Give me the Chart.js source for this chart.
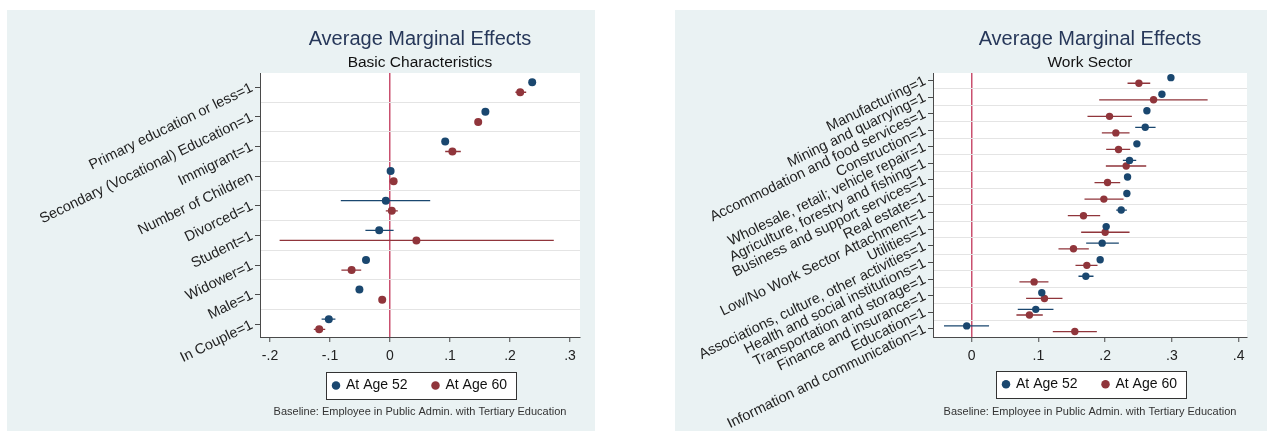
<!DOCTYPE html>
<html>
<head>
<meta charset="utf-8">
<script src="https://cdn.jsdelivr.net/npm/chart.js@4.4.1/dist/chart.umd.min.js"></script>
<style>
  html, body { margin: 0; padding: 0; background: #ffffff; }
  body { width: 1267px; height: 431px; position: relative; overflow: hidden; }
  canvas { position: absolute; background: #eaf2f3; }
  #basic { left: 7px; top: 10px; }
  #sector { left: 675px; top: 10px; }
</style>
</head>
<body>
<canvas id="basic" width="588" height="421"></canvas>
<canvas id="sector" width="592" height="421"></canvas>
<script>
// left panel: basic characteristics
const basicCats = ["Primary education or less=1", "Secondary (Vocational) Education=1", "Immigrant=1",
  "Number of Children", "Divorced=1", "Student=1", "Widower=1", "Male=1", "In Couple=1"];
const basic52 = [0.237, 0.159, 0.092, 0.001, -0.007, -0.018, -0.040, -0.051, -0.102];
const basic52Lo = [0.233, 0.155, 0.088, -0.003, -0.082, -0.041, -0.044, -0.055, -0.114];
const basic52Hi = [0.241, 0.163, 0.096, 0.005, 0.067, 0.006, -0.036, -0.047, -0.091];
const basic60 = [0.217, 0.147, 0.104, 0.006, 0.003, 0.044, -0.064, -0.013, -0.118];
const basic60Lo = [0.209, 0.143, 0.092, 0.002, -0.007, -0.184, -0.081, -0.017, -0.127];
const basic60Hi = [0.227, 0.151, 0.118, 0.010, 0.013, 0.273, -0.048, -0.009, -0.108];
const basicTicks = [-0.2, -0.1, 0, 0.1, 0.2, 0.3];
const basicTickLabels = ["-.2", "-.1", "0", ".1", ".2", ".3"];

// right panel: work sector
const sectorCats = ["Manufacturing=1", "Mining and quarrying=1", "Accommodation and food services=1",
  "Construction=1", "Wholesale, retail; vehicle repair=1", "Agriculture, forestry and fishing=1",
  "Business and support services=1", "Real estate=1", "Low/No Work Sector Attachment=1", "Utilities=1",
  "Associations, culture, other activities=1", "Health and social institutions=1",
  "Transportation and storage=1", "Finance and insurance=1", "Education=1",
  "Information and communication=1"];
const sector52 = [0.2985, 0.285, 0.2625, 0.26, 0.2475, 0.2365, 0.2335, 0.2325, 0.224, 0.2015, 0.1955, 0.1925, 0.171, 0.105, 0.096, -0.0075];
const sector52Lo = [0.295, 0.281, 0.259, 0.245, 0.244, 0.2265, 0.23, 0.229, 0.2165, 0.198, 0.1715, 0.189, 0.16, 0.101, 0.069, -0.0415];
const sector52Hi = [0.302, 0.289, 0.266, 0.2755, 0.251, 0.2465, 0.237, 0.236, 0.2325, 0.205, 0.2205, 0.196, 0.1825, 0.109, 0.1225, 0.026];
const sector60 = [0.2505, 0.2725, 0.2065, 0.216, 0.22, 0.2315, 0.2035, 0.198, 0.1675, 0.2, 0.1525, 0.1725, 0.0935, 0.109, 0.0865, 0.1545];
const sector60Lo = [0.2335, 0.191, 0.1735, 0.195, 0.2015, 0.201, 0.184, 0.169, 0.144, 0.164, 0.13, 0.1555, 0.0715, 0.0815, 0.067, 0.1215];
const sector60Hi = [0.2675, 0.3535, 0.24, 0.2365, 0.2375, 0.2615, 0.2225, 0.2275, 0.1925, 0.2365, 0.1755, 0.1885, 0.115, 0.136, 0.1065, 0.1875];
const sectorTicks = [0, 0.1, 0.2, 0.3, 0.4];
const sectorTickLabels = ["0", ".1", ".2", ".3", ".4"];

const seriesNames = ["At Age 52", "At Age 60"];
const note = "Baseline: Employee in Public Admin. with Tertiary Education";

const NAVY = "#1a476f";
const MAROON = "#90353b";
const AXIS = "#4a4a4a";

Chart.defaults.font.family = "'Liberation Sans', Arial, sans-serif";
Chart.defaults.color = "#333";

const panelExtras = {
  id: "panelExtras",
  afterUpdate(chart, args, opts) {
    // pull the legend up closer to the axis labels
    const lg = chart.legend;
    const dy = opts.legendShift;
    lg.top += dy;
    lg.bottom += dy;
    (lg.legendHitBoxes || []).forEach(h => { h.top += dy; });
  },
  beforeDraw(chart) {
    const { ctx, chartArea: a } = chart;
    ctx.save();
    ctx.fillStyle = "#ffffff";
    ctx.fillRect(a.left, a.top, a.right - a.left, a.bottom - a.top);
    // legend frame
    const hb = chart.legend.legendHitBoxes;
    if (hb && hb.length) {
      const last = hb[hb.length - 1];
      const x0 = Math.round(hb[0].left - 7) + 0.5;
      const x1 = Math.round(last.left + last.width + 9) + 0.5;
      const yc = hb[0].top + hb[0].height / 2;
      const y0 = Math.round(yc - 13.5) + 0.5;
      ctx.fillRect(x0, y0, x1 - x0, 27);
      ctx.strokeStyle = "#333";
      ctx.lineWidth = 1;
      ctx.strokeRect(x0, y0, x1 - x0, 27);
    }
    ctx.restore();
  },
  afterDraw(chart, args, opts) {
    const { ctx, chartArea: a } = chart;
    ctx.save();
    ctx.font = "11px 'Liberation Sans', Arial, sans-serif";
    ctx.fillStyle = "#333";
    ctx.textAlign = "center";
    ctx.textBaseline = "middle";
    ctx.fillText(opts.note, (a.left + a.right) / 2, opts.noteY);
    ctx.restore();
  }
};

function ciPoints(lo, hi, shift) {
  return lo.flatMap((l, i) => [{ x: l, y: i + shift }, { x: hi[i], y: i + shift }, { x: NaN, y: NaN }]);
}

function makePanel(id, p) {
  const n = p.cats.length;
  const off = 0.17;
  return new Chart(document.getElementById(id), {
    type: "scatter",
    data: {
      datasets: [
        { label: seriesNames[0], data: p.v52.map((v, i) => ({ x: v, y: i - off })),
          backgroundColor: NAVY, borderColor: NAVY, pointRadius: p.r, pointBorderWidth: 0, pointStyle: "circle" },
        { label: seriesNames[1], data: p.v60.map((v, i) => ({ x: v, y: i + off })),
          backgroundColor: MAROON, borderColor: MAROON, pointRadius: p.r, pointBorderWidth: 0, pointStyle: "circle" },
        { label: "ci52", data: ciPoints(p.lo52, p.hi52, -off), showLine: true, spanGaps: false,
          borderColor: NAVY, borderWidth: 1.3, pointRadius: 0 },
        { label: "ci60", data: ciPoints(p.lo60, p.hi60, off), showLine: true, spanGaps: false,
          borderColor: MAROON, borderWidth: 1.3, pointRadius: 0 }
      ]
    },
    options: {
      responsive: false,
      animation: false,
      layout: { padding: { top: 0, right: p.padRight, bottom: 12, left: 0 } },
      scales: {
        x: {
          type: "linear", min: p.xMin, max: p.xMax,
          afterBuildTicks: s => { s.ticks = p.ticks.map(v => ({ value: v })); },
          afterFit: s => { s.height = p.xHeight; },
          ticks: { callback: (v, i) => p.tickLabels[i], padding: 6, color: "#222", font: { size: 14 } },
          grid: {
            color: c => (c.tick && c.tick.value === 0 ? "#c9506f" : "rgba(0,0,0,0)"),
            lineWidth: 1.5, tickColor: AXIS, tickWidth: 1, tickLength: 5
          },
          border: { color: AXIS, width: 1 }
        },
        y: {
          type: "linear", reverse: true, min: -p.yPadTop, max: n - 1 + p.yPadBottom,
          afterBuildTicks: s => { s.ticks = p.cats.map((c, i) => ({ value: i })); },
          afterFit: s => { s.width = p.yWidth; },
          ticks: { callback: (v, i) => p.cats[i], minRotation: p.rot, maxRotation: p.rot,
            autoSkip: false, padding: 3, color: "#222", font: { size: 14.5 } },
          grid: { drawOnChartArea: false, tickColor: AXIS, tickLength: 5 },
          border: { color: AXIS, width: 1 }
        },
        yg: {
          type: "linear", position: "left", reverse: true, min: -p.yPadTop, max: n - 1 + p.yPadBottom,
          afterBuildTicks: s => { s.ticks = p.cats.slice(1).map((c, i) => ({ value: i + 0.5 })); },
          afterFit: s => { s.width = 0; },
          ticks: { display: false },
          grid: { color: "#e4e4e4", lineWidth: 1, drawTicks: false },
          border: { display: false }
        }
      },
      plugins: {
        title: { display: true, text: "Average Marginal Effects", fullSize: false, color: "#27385a",
          font: { size: 20, weight: "normal" }, padding: { top: 17, bottom: 0 } },
        subtitle: { display: true, text: p.subtitle, fullSize: false, color: "#111",
          font: { size: 15.5, weight: "normal" }, padding: { top: 2, bottom: 1.4 } },
        legend: {
          position: "bottom", fullSize: false,
          labels: { usePointStyle: true, boxWidth: 6, boxHeight: 6, padding: 25, color: "#111",
            font: { size: 14 }, filter: item => item.datasetIndex < 2 }
        },
        tooltip: { enabled: false },
        panelExtras: { note: note, noteY: 402, legendShift: p.legendShift }
      }
    },
    plugins: [panelExtras]
  });
}

makePanel("basic", {
  cats: basicCats, v52: basic52, lo52: basic52Lo, hi52: basic52Hi,
  v60: basic60, lo60: basic60Lo, hi60: basic60Hi,
  ticks: basicTicks, tickLabels: basicTickLabels, xMin: -0.2167, xMax: 0.3167,
  subtitle: "Basic Characteristics", yWidth: 253, padRight: 15, xHeight: 33, legendShift: -16.5,
  yPadTop: 0.48, yPadBottom: 0.43, rot: 26, r: 4
});

makePanel("sector", {
  cats: sectorCats, v52: sector52, lo52: sector52Lo, hi52: sector52Hi,
  v60: sector60, lo60: sector60Lo, hi60: sector60Hi,
  ticks: sectorTicks, tickLabels: sectorTickLabels, xMin: -0.058, xMax: 0.4125,
  subtitle: "Work Sector", yWidth: 258, padRight: 20, xHeight: 33, legendShift: -17.8,
  yPadTop: 0.45, yPadBottom: 0.5, rot: 26, r: 3.7
});
</script>
</body>
</html>
